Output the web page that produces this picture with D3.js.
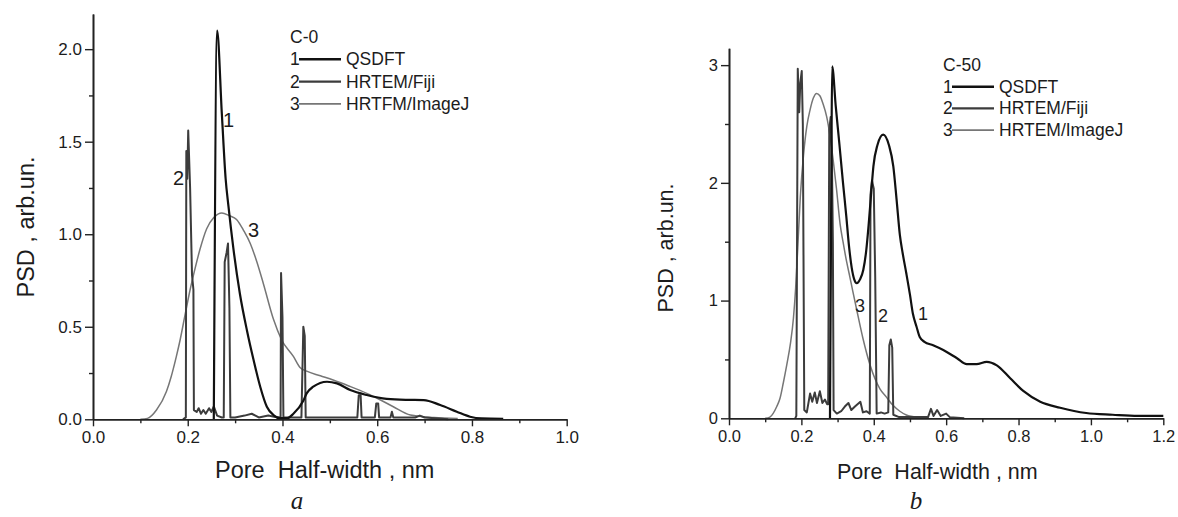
<!DOCTYPE html>
<html>
<head>
<meta charset="utf-8">
<script src="https://cdn.jsdelivr.net/npm/d3@7"></script>
<style>
  body { margin: 0; background: #fff; }
  svg { display: block; }
  text { font-family: "Liberation Sans", Arial, sans-serif; fill: #1c1c1c; }
</style>
</head>
<body>
<svg id="chart" width="1178" height="517"></svg>
<script>
// ── data: [pore half-width nm, PSD arb.un.] ─────────────────────────────────

const c0Qsdft = [[0.255,0],[0.262,2.10],[0.272,1.65],[0.280,1.30],[0.286,1.15],[0.296,0.93],[0.310,0.68],[0.325,0.48],[0.339,0.32],[0.353,0.176],[0.367,0.068],[0.381,0.023],[0.395,0.006],[0.410,0.006],[0.423,0.03],[0.444,0.10],[0.451,0.14],[0.465,0.176],[0.494,0.203],[0.515,0.194],[0.543,0.158],[0.578,0.131],[0.620,0.11],[0.660,0.105],[0.698,0.104],[0.733,0.077],[0.768,0.041],[0.796,0.014],[0.820,0.005],[0.866,0.003]];

const c0Fiji = [[0.190,0],[0.196,0.01],[0.197,1.45],[0.199,1.30],[0.201,1.56],[0.205,1.25],[0.209,0.78],[0.212,0.70],[0.213,0.05],[0.219,0.04],[0.223,0.06],[0.228,0.03],[0.233,0.05],[0.238,0.03],[0.245,0.06],[0.250,0.04],[0.255,0.07],[0.262,0.02],[0.272,0.01],[0.276,0.01],[0.278,0.85],[0.282,0.90],[0.285,0.95],[0.288,0.60],[0.290,0.01],[0.300,0.01],[0.320,0.02],[0.335,0.03],[0.350,0.01],[0.370,0.02],[0.390,0.01],[0.396,0.01],[0.397,0.79],[0.400,0.55],[0.402,0.01],[0.440,0.01],[0.444,0.50],[0.447,0.45],[0.449,0.01],[0.558,0.01],[0.561,0.13],[0.565,0.13],[0.567,0.01],[0.595,0.01],[0.598,0.086],[0.602,0.086],[0.604,0.01],[0.628,0.01],[0.631,0.041],[0.634,0.01],[0.680,0.01],[0.690,0.02],[0.700,0.01],[0.750,0.0]];

const c0ImageJ = [[0.100,0],[0.115,0.005],[0.134,0.05],[0.155,0.15],[0.165,0.23],[0.176,0.34],[0.184,0.43],[0.194,0.56],[0.205,0.70],[0.215,0.81],[0.226,0.92],[0.240,1.03],[0.255,1.09],[0.272,1.115],[0.288,1.10],[0.303,1.08],[0.318,1.02],[0.332,0.95],[0.346,0.85],[0.360,0.73],[0.381,0.54],[0.398,0.43],[0.423,0.34],[0.437,0.28],[0.451,0.26],[0.480,0.235],[0.507,0.212],[0.540,0.18],[0.578,0.14],[0.610,0.10],[0.634,0.068],[0.670,0.023],[0.720,0.01],[0.770,0.005]];

const c50Qsdft = [[0.279,0],[0.283,2.20],[0.285,2.99],[0.295,2.65],[0.305,2.33],[0.315,2.00],[0.324,1.72],[0.331,1.48],[0.339,1.28],[0.346,1.18],[0.353,1.147],[0.362,1.18],[0.371,1.26],[0.379,1.42],[0.386,1.65],[0.393,1.92],[0.399,2.14],[0.410,2.32],[0.426,2.41],[0.442,2.32],[0.454,2.14],[0.463,1.86],[0.472,1.56],[0.480,1.40],[0.490,1.23],[0.500,1.05],[0.508,0.89],[0.518,0.78],[0.527,0.69],[0.540,0.65],[0.564,0.62],[0.592,0.58],[0.630,0.51],[0.657,0.46],[0.684,0.46],[0.712,0.48],[0.740,0.45],[0.777,0.34],[0.814,0.23],[0.860,0.14],[0.915,0.09],[0.987,0.045],[1.060,0.03],[1.130,0.02],[1.200,0.02]];

const c50Fiji = [[0.183,0],[0.186,0.02],[0.190,2.97],[0.194,2.60],[0.197,2.85],[0.201,2.95],[0.204,2.50],[0.208,0.07],[0.215,0.05],[0.224,0.21],[0.230,0.14],[0.237,0.22],[0.243,0.13],[0.251,0.23],[0.258,0.13],[0.265,0.16],[0.271,0.12],[0.274,0.12],[0.277,2.45],[0.281,2.56],[0.284,2.30],[0.287,1.50],[0.289,0.07],[0.298,0.04],[0.310,0.06],[0.320,0.10],[0.330,0.13],[0.338,0.07],[0.348,0.10],[0.363,0.14],[0.370,0.05],[0.380,0.06],[0.389,0.04],[0.391,1.90],[0.395,2.02],[0.400,1.95],[0.404,1.20],[0.408,0.04],[0.420,0.05],[0.430,0.04],[0.440,0.05],[0.443,0.62],[0.447,0.67],[0.451,0.60],[0.454,0.03],[0.470,0.01],[0.550,0.01],[0.558,0.08],[0.565,0.02],[0.575,0.07],[0.585,0.02],[0.600,0.04],[0.610,0.01],[0.650,0.0]];

const c50ImageJ = [[0.100,0],[0.113,0.01],[0.132,0.10],[0.141,0.17],[0.150,0.30],[0.160,0.46],[0.170,0.64],[0.178,0.85],[0.184,1.10],[0.190,1.45],[0.197,1.88],[0.206,2.24],[0.215,2.48],[0.224,2.62],[0.233,2.72],[0.242,2.76],[0.251,2.74],[0.260,2.67],[0.270,2.56],[0.279,2.40],[0.288,2.19],[0.297,1.95],[0.307,1.65],[0.315,1.50],[0.325,1.33],[0.334,1.20],[0.342,1.08],[0.353,0.92],[0.370,0.68],[0.390,0.45],[0.417,0.25],[0.435,0.18],[0.453,0.11],[0.472,0.06],[0.490,0.028],[0.520,0.008]];

const c0XTicks  = [0, 0.2, 0.4, 0.6, 0.8, 1.0];
const c0YTicks  = [0, 0.5, 1.0, 1.5, 2.0];
const c50XTicks = [0, 0.2, 0.4, 0.6, 0.8, 1.0, 1.2];
const c50YTicks = [0, 1, 2, 3];

const c0Legend  = ["QSDFT", "HRTEM/Fiji", "HRTFM/ImageJ"];
const c50Legend = ["QSDFT", "HRTEM/Fiji", "HRTEM/ImageJ"];

// ── layout / styling ────────────────────────────────────────────────────────

const seriesStyle = [
  { color: "#111",    width: 2.2, curve: d3.curveMonotoneX },   // 1 QSDFT
  { color: "#3c3c3c", width: 2.0, curve: d3.curveLinear },      // 2 HRTEM/Fiji
  { color: "#767676", width: 1.5, curve: d3.curveMonotoneX }    // 3 HRTEM/ImageJ
];

const panels = [
  {
    left: 93, right: 566.7, top: 14, bottom: 419.3, xMax: 1.0, yMax: 2.19,
    xTicks: c0XTicks, yTicks: c0YTicks, xMinorStep: 0.1, yMinorStep: 0.25, yFmt: d3.format(".1f"),
    series: [c0Qsdft, c0Fiji, c0ImageJ], legend: c0Legend, title: "C-0",
    tickFont: 17, labelFont: 23.5, legendFont: 17.5,
    legendX: 290, legendY: 43, legendStep: 22.3,
    yLabel: { x: 34, y: 227 }, xLabel: { x: 215, y: 478 },
    curveLabels: [["1", 223, 127], ["2", 173, 185], ["3", 248, 237]], curveLabelFont: 20,
    letter: "a", letterX: 297, letterY: 509
  },
  {
    left: 729, right: 1163.3, top: 48.3, bottom: 418.3, xMax: 1.2, yMax: 3.143,
    xTicks: c50XTicks, yTicks: c50YTicks, xMinorStep: 0.1, yMinorStep: 0.5, yFmt: d3.format("d"),
    series: [c50Qsdft, c50Fiji, c50ImageJ], legend: c50Legend, title: "C-50",
    tickFont: 16.5, labelFont: 21.5, legendFont: 17.5,
    legendX: 943, legendY: 71, legendStep: 21.7,
    yLabel: { x: 673, y: 248 }, xLabel: { x: 837, y: 479 },
    curveLabels: [["3", 855, 312], ["2", 878, 322], ["1", 918, 320]], curveLabelFont: 18,
    letter: "b", letterX: 916, letterY: 509
  }
];

const svg = d3.select("#chart");
svg.append("rect").attr("width", 1178).attr("height", 517).attr("fill", "#fff");

function drawPanel(p) {
  const x = d3.scaleLinear().domain([0, p.xMax]).range([p.left, p.right]);
  const y = d3.scaleLinear().domain([0, p.yMax]).range([p.bottom, p.top]);
  const g = svg.append("g");

  const xMinor = d3.range(0, p.xMax + 1e-9, p.xMinorStep).filter(v => !p.xTicks.some(t => Math.abs(t - v) < 1e-6));
  const yMinor = d3.range(0, p.yMax, p.yMinorStep).filter(v => !p.yTicks.some(t => Math.abs(t - v) < 1e-6));

  // curves first, axes on top
  const order = [2, 1, 0];
  order.forEach(i => {
    const st = seriesStyle[i];
    const line = d3.line().x(d => x(d[0])).y(d => y(d[1])).curve(st.curve);
    g.append("path").datum(p.series[i])
      .attr("d", line).attr("fill", "none")
      .attr("stroke", st.color).attr("stroke-width", st.width)
      .attr("stroke-linejoin", "round");
  });

  const styleAxis = sel => {
    sel.select(".domain").attr("stroke", "#222").attr("stroke-width", 1.6);
    sel.selectAll(".tick line").attr("stroke", "#222").attr("stroke-width", 1.4);
    sel.selectAll(".tick text").attr("fill", "#2a2a2a").style("font-size", p.tickFont + "px")
      .style("font-family", '"Liberation Sans", Arial, sans-serif');
  };

  g.append("g").attr("transform", `translate(0,${p.bottom})`)
    .call(d3.axisBottom(x).tickValues(xMinor).tickSize(4).tickSizeOuter(0).tickFormat(""))
    .call(styleAxis);
  g.append("g").attr("transform", `translate(0,${p.bottom})`)
    .call(d3.axisBottom(x).tickValues(p.xTicks).tickSize(7).tickPadding(5).tickSizeOuter(0).tickFormat(d3.format(".1f")))
    .call(styleAxis);
  g.append("g").attr("transform", `translate(${p.left},0)`)
    .call(d3.axisLeft(y).tickValues(yMinor).tickSize(4).tickSizeOuter(0).tickFormat(""))
    .call(styleAxis);
  g.append("g").attr("transform", `translate(${p.left},0)`)
    .call(d3.axisLeft(y).tickValues(p.yTicks).tickSize(8).tickPadding(3).tickSizeOuter(0).tickFormat(p.yFmt))
    .call(styleAxis);

  // axis titles
  g.append("text")
    .attr("transform", `translate(${p.yLabel.x},${p.yLabel.y}) rotate(-90)`)
    .attr("text-anchor", "middle").style("font-size", p.labelFont + "px").style("white-space", "pre")
    .text("PSD , arb.un.");
  g.append("text")
    .attr("x", p.xLabel.x).attr("y", p.xLabel.y)
    .style("font-size", p.labelFont + "px").style("white-space", "pre")
    .text("Pore  Half-width , nm");

  // legend
  g.append("text").attr("x", p.legendX).attr("y", p.legendY)
    .style("font-size", p.legendFont + "px").text(p.title);
  p.legend.forEach((name, i) => {
    const by = p.legendY + p.legendStep * (i + 1);
    g.append("text").attr("x", p.legendX).attr("y", by).style("font-size", p.legendFont + "px").text(i + 1);
    g.append("line").attr("x1", p.legendX + 9).attr("x2", p.legendX + 51)
      .attr("y1", by - 6).attr("y2", by - 6)
      .attr("stroke", seriesStyle[i].color).attr("stroke-width", seriesStyle[i].width + 0.4);
    g.append("text").attr("x", p.legendX + 56).attr("y", by).style("font-size", p.legendFont + "px").text(name);
  });

  // curve numbers
  p.curveLabels.forEach(([t, lx, ly]) => {
    g.append("text").attr("x", lx).attr("y", ly).style("font-size", p.curveLabelFont + "px").text(t);
  });

  // sub-figure letter
  g.append("text").attr("x", p.letterX).attr("y", p.letterY).attr("text-anchor", "middle")
    .style("font-family", '"Liberation Serif", "Times New Roman", serif')
    .style("font-style", "italic").style("font-size", "25px").text(p.letter);
}

panels.forEach(drawPanel);
</script>
</body>
</html>
